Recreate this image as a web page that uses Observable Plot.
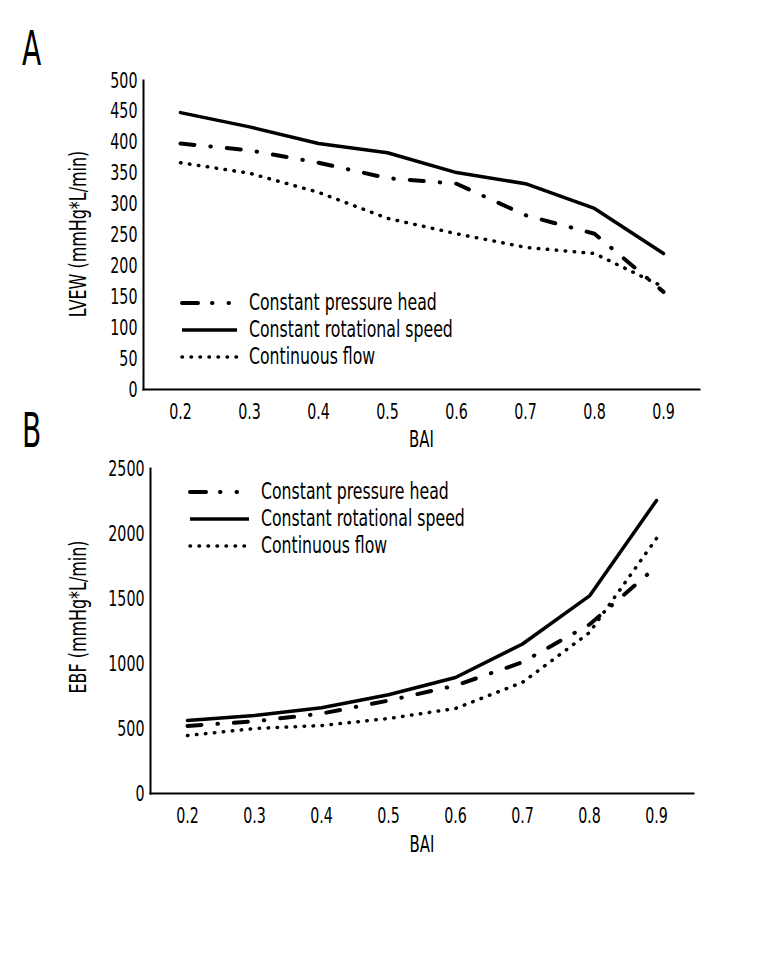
<!DOCTYPE html>
<html>
<head>
<meta charset="utf-8">
<script src="https://cdn.jsdelivr.net/npm/d3@7"></script>
<script src="https://cdn.jsdelivr.net/npm/@observablehq/plot@0.6"></script>
<style>
  body { margin: 0; background: #fff; }
  #wrap { position: relative; width: 768px; height: 960px; background: #fff; overflow: hidden;
          font-family: 'DejaVu Sans Condensed', 'DejaVu Sans', sans-serif; color: #000; }
  .panel { position: absolute; left: 0; }
  .letter { position: absolute; font-size: 48px; line-height: 1; transform: scaleX(0.65); transform-origin: left top; }
  .ylabel { position: absolute; font-size: 23px; line-height: 1; white-space: nowrap;
            transform: translate(-50%, -50%) rotate(-90deg) scaleX(0.77); }
  .legend { position: absolute; font-size: 23px; line-height: 27px; }
  .legend div { display: flex; align-items: center; height: 27px; white-space: nowrap; }
  .legend svg { margin-right: 6px; flex: none; }
  .legend span { display: inline-block; transform: scaleX(0.76); transform-origin: left center; }
</style>
</head>
<body>
<div id="wrap"></div>
<script>
const bai = ["0.2", "0.3", "0.4", "0.5", "0.6", "0.7", "0.8", "0.9"];
const seriesNames = ["Constant pressure head", "Constant rotational speed", "Continuous flow"];
// Panel A: LVEW (mmHg*L/min)
const lvewPressure = [398, 387, 367, 342, 333, 282, 252, 158];
const lvewSpeed    = [448, 425, 398, 383, 351, 333, 293, 220];
const lvewFlow     = [367, 350, 319, 277, 252, 230, 220, 166];
// Panel B: EBF (mmHg*L/min)
const ebfPressure = [520, 555, 615, 715, 830, 1010, 1300, 1745];
const ebfSpeed    = [562, 600, 660, 760, 892, 1150, 1520, 2254];
const ebfFlow     = [446, 500, 523, 577, 654, 855, 1238, 1962];
const yTicksA = [0, 50, 100, 150, 200, 250, 300, 350, 400, 450, 500];
const yTicksB = [0, 500, 1000, 1500, 2000, 2500];
const yLabelA = "LVEW (mmHg*L/min)";
const yLabelB = "EBF (mmHg*L/min)";
const xLabel = "BAI";

const styles = [
  {stroke: "#000", strokeWidth: 4, strokeDasharray: "14 16 0.5 16", strokeLinecap: "round"},
  {stroke: "#000", strokeWidth: 3.5},
  {stroke: "#000", strokeWidth: 3.5, strokeDasharray: "0.5 8.5", strokeLinecap: "round"}
];

const FONT = "'DejaVu Sans Condensed', 'DejaVu Sans', sans-serif";

function toRows(arr) { return bai.map((b, i) => ({bai: b, v: arr[i]})); }

function makePlot({series, yDomain, yTicks, height, mt, mb, ml, mr, labelOffsetX}) {
  return Plot.plot({
    width: 768, height,
    marginTop: mt, marginBottom: mb, marginLeft: ml, marginRight: mr,
    style: {fontFamily: FONT, fontSize: "22px", color: "#000", background: "transparent"},
    x: {type: "point", domain: bai, padding: 0.5, label: null},
    y: {domain: yDomain, label: null},
    marks: [
      Plot.axisY({ticks: yTicks, tickFormat: "d", tickSize: 0, tickPadding: 6, fontSize: 22}),
      Plot.axisX({tickSize: 0, tickPadding: 14, fontSize: 22}),
      Plot.axisX({ticks: [], tickSize: 0, label: xLabel, labelAnchor: "center", labelOffset: labelOffsetX,
                  labelArrow: "none", fontSize: 23}),
      Plot.frame({anchor: "left", stroke: "#000", strokeWidth: 2}),
      Plot.frame({anchor: "bottom", stroke: "#000", strokeWidth: 2}),
      ...series.map((s, i) => Plot.line(toRows(s), {x: "bai", y: "v", ...styles[i]}))
    ]
  });
}

// condense svg text horizontally (the original uses a narrow typeface)
function condense(svg) {
  d3.select(svg).selectAll("text").each(function() {
    const len = this.getComputedTextLength();
    if (len > 0) {
      this.setAttribute("textLength", (len * 0.72).toFixed(2));
      this.setAttribute("lengthAdjust", "spacingAndGlyphs");
    }
  });
}

const wrap = document.getElementById("wrap");

const pA = makePlot({series: [lvewPressure, lvewSpeed, lvewFlow], yDomain: [0, 500], yTicks: yTicksA,
  height: 460, mt: 80, mb: 71, ml: 143, mr: 69, labelOffsetX: 57});
pA.classList.add("panel"); pA.style.top = "0px";
wrap.appendChild(pA);
condense(pA);

const pB = makePlot({series: [ebfPressure, ebfSpeed, ebfFlow], yDomain: [0, 2500], yTicks: yTicksB,
  height: 460, mt: 48, mb: 87, ml: 150, mr: 75, labelOffsetX: 58});
pB.classList.add("panel"); pB.style.top = "420px";
wrap.appendChild(pB);
condense(pB);

function addDiv(cls, t, x, y) {
  const d = document.createElement("div");
  d.className = cls; d.textContent = t; d.style.left = x + "px"; d.style.top = y + "px";
  wrap.appendChild(d);
}
addDiv("letter", "A", 22, 24);
addDiv("letter", "B", 22, 406);
addDiv("ylabel", yLabelA, 78, 234);
addDiv("ylabel", yLabelB, 78, 617);

function legend(x, y, sampleW) {
  const box = document.createElement("div");
  box.className = "legend"; box.style.left = x + "px"; box.style.top = y + "px";
  seriesNames.forEach((name, i) => {
    const row = document.createElement("div");
    const svg = d3.create("svg").attr("width", sampleW + 6).attr("height", 27);
    const st = styles[i];
    svg.append("line").attr("x1", 3).attr("x2", sampleW).attr("y1", 14).attr("y2", 14)
      .attr("stroke", "#000").attr("stroke-width", st.strokeWidth)
      .attr("stroke-dasharray", i === 0 ? "16 14 0.5 16 0.5 40" : (st.strokeDasharray || null))
      .attr("stroke-linecap", st.strokeLinecap || "butt");
    row.appendChild(svg.node());
    const span = document.createElement("span"); span.textContent = name;
    row.appendChild(span);
    box.appendChild(row);
  });
  wrap.appendChild(box);
}
legend(179, 289, 58);
legend(187, 478, 62);
</script>
</body>
</html>
